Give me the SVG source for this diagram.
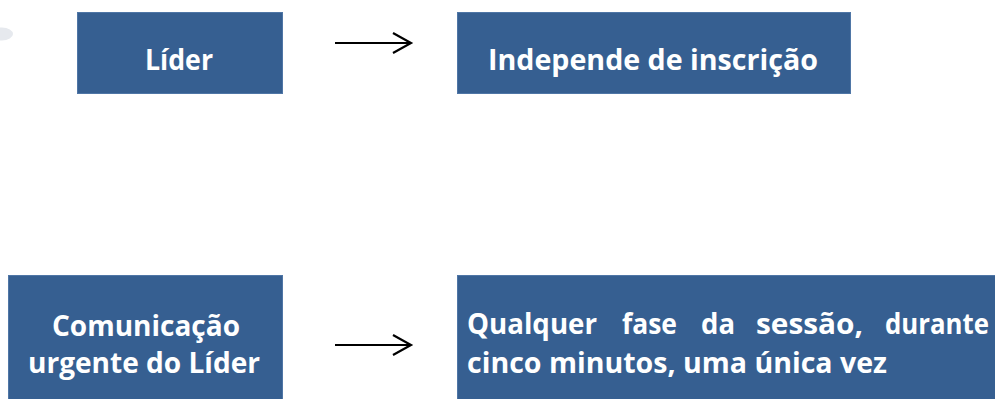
<svg xmlns="http://www.w3.org/2000/svg" width="995" height="399" viewBox="0 0 995 399">
<defs>
<style>
.box{fill:#365f91;stroke:#4f76a6;stroke-width:1}
.t{font-family:"Open Sans","Liberation Sans",sans-serif;font-weight:bold;font-size:29px;fill:#ffffff}
.c{stroke:#000;stroke-width:2.2;fill:none;stroke-linecap:butt}
</style>
</defs>
<rect width="995" height="399" fill="#ffffff"/>
<ellipse cx="2" cy="34" rx="11" ry="6.5" fill="#e6e9ee"/>
<g id="lider">
<rect class="box" x="77.5" y="12.5" width="205" height="81"/>
<text class="t" x="145" y="70" textLength="68" lengthAdjust="spacingAndGlyphs">Líder</text>
</g>
<g id="independe">
<rect class="box" x="457.5" y="12.5" width="393" height="81"/>
<text class="t" x="488" y="70" textLength="330" lengthAdjust="spacingAndGlyphs">Independe de inscrição</text>
</g>
<g id="comunicacao">
<rect class="box" x="8.5" y="275.5" width="274" height="130"/>
<text class="t" x="52" y="336" textLength="188" lengthAdjust="spacingAndGlyphs">Comunicação</text>
<text class="t" x="28" y="373" textLength="232" lengthAdjust="spacingAndGlyphs">urgente do Líder</text>
</g>
<g id="qualquer">
<rect class="box" x="457.5" y="275.5" width="545" height="130"/>
<text class="t" y="334"><tspan x="467" textLength="130" lengthAdjust="spacingAndGlyphs">Qualquer</tspan> <tspan x="622" textLength="55" lengthAdjust="spacingAndGlyphs">fase</tspan> <tspan x="701" textLength="34" lengthAdjust="spacingAndGlyphs">da</tspan> <tspan x="756" textLength="107" lengthAdjust="spacingAndGlyphs">sessão,</tspan> <tspan x="885" textLength="104" lengthAdjust="spacingAndGlyphs">durante</tspan></text>
<text class="t" x="467" y="373" textLength="420" lengthAdjust="spacingAndGlyphs">cinco minutos, uma única vez</text>
</g>
<g id="connectors">
<path class="c" d="M335 43H411M393 33L411 43L393 53"/>
<path class="c" d="M335 345H411M393 335L411 345L393 355"/>
</g>
</svg>
